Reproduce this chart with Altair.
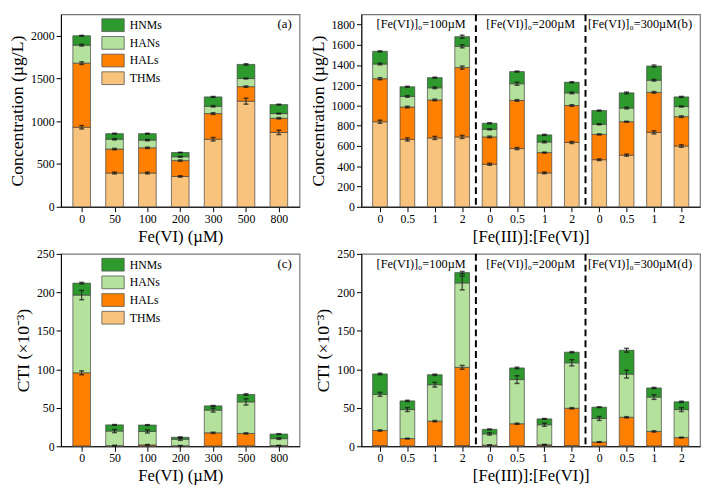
import altair as alt
import pandas as pd

FONT = "Liberation Serif"

classes_stack = ["THMs", "HALs", "HANs", "HNMs"]
legend_order = ["HNMs", "HANs", "HALs", "THMs"]
class_colors = ["#2E9A2E", "#B4E19C", "#FF8000", "#F8C37C"]

fe_doses = ["0", "50", "100", "200", "300", "500", "800"]
ratios = ["0", "0.5", "1", "2"]
groups = ["[Fe(VI)]₀=100µM", "[Fe(VI)]₀=200µM", "[Fe(VI)]₀=300µM"]

# (a) concentration vs Fe(VI) dose
a_thms = [930, 395, 395, 355, 790, 1235, 870]
a_hals = [750, 280, 295, 185, 300, 170, 165]
a_hans = [210, 115, 90, 45, 85, 95, 55]
a_hnms = [110, 65, 75, 50, 110, 165, 105]
a_thms_err = [20, 10, 10, 8, 20, 35, 25]
a_hals_err = [15, 8, 8, 8, 10, 8, 8]
a_hans_err = [10, 8, 8, 5, 8, 5, 5]
a_hnms_err = [5, 5, 5, 3, 5, 8, 5]

# (b) concentration vs [Fe(III)]:[Fe(VI)]
b_thms = [840, 665, 680, 690, 420, 575, 335, 635, 465, 510, 735, 600]
b_hals = [425, 320, 375, 685, 270, 475, 200, 365, 250, 330, 395, 290]
b_hans = [145, 105, 120, 210, 75, 165, 105, 125, 100, 135, 120, 100]
b_hnms = [125, 95, 100, 95, 60, 120, 70, 105, 135, 150, 140, 95]
b_thms_err = [15, 15, 15, 15, 10, 10, 8, 10, 8, 10, 15, 12]
b_hals_err = [10, 8, 8, 15, 8, 8, 5, 8, 5, 5, 8, 8]
b_hans_err = [8, 8, 8, 15, 5, 15, 8, 8, 5, 8, 8, 5]
b_hnms_err = [5, 5, 5, 15, 5, 5, 5, 5, 5, 8, 10, 5]

# (c) CTI vs Fe(VI) dose
c_thms = [0.5, 0.3, 0.3, 0.2, 0.5, 0.7, 0.5]
c_hals = [95, 0.5, 1.5, 0.5, 17, 16, 0.5]
c_hans = [101, 19, 17.5, 8.5, 29.5, 41, 9]
c_hnms = [15.5, 8, 8.3, 2.5, 5.5, 9.6, 5.9]
c_thms_err = [0, 0, 0, 0, 0, 0, 0]
c_hals_err = [2.5, 0.5, 0.5, 0.3, 0.8, 0.8, 0.3]
c_hans_err = [6, 2, 2, 1.5, 2.5, 4, 1]
c_hnms_err = [1, 0.5, 0.5, 0.5, 0.5, 1, 0.5]

# (d) CTI vs [Fe(III)]:[Fe(VI)]
d_thms = [1, 0.5, 0.7, 1, 0.5, 0.7, 1, 1, 0.5, 0.7, 0.5, 0.5]
d_hals = [19.5, 9.5, 32, 101.6, 1, 28.6, 1, 48.4, 5, 37, 18.8, 10.8]
d_hans = [47, 37.7, 47.3, 109.7, 14.6, 57.4, 26, 59.1, 30.6, 56.1, 44.7, 36.4]
d_hnms = [26.5, 11.3, 13, 13.4, 5.9, 15.1, 7.6, 13.8, 14.7, 31, 11.8, 10.1]
d_thms_err = [0] * 12
d_hals_err = [0.8, 0.5, 0.8, 2.5, 0.3, 0.8, 0.5, 0.8, 0.5, 0.8, 0.8, 0.5]
d_hans_err = [2.5, 2.5, 3, 9, 1.5, 5, 2, 4, 2.5, 5, 3, 2.5]
d_hnms_err = [1, 0.8, 0.8, 1.5, 0.5, 1, 0.5, 0.8, 0.5, 2.5, 0.8, 0.8]


def build_df(labels, vals, errs):
    rows = []
    for i, lab in enumerate(labels):
        base = 0.0
        for k, cls in enumerate(classes_stack):
            v = vals[k][i]
            e = errs[k][i]
            rows.append(dict(pos=i, label=lab, cls=cls, k=k, base=base,
                             top=base + v, err=e, lo=base + v - e, hi=base + v + e))
            base += v
    return pd.DataFrame(rows)


ratio_labels = ratios * len(groups)

df_a = build_df(fe_doses, [a_thms, a_hals, a_hans, a_hnms],
                [a_thms_err, a_hals_err, a_hans_err, a_hnms_err])
df_b = build_df(ratio_labels, [b_thms, b_hals, b_hans, b_hnms],
                [b_thms_err, b_hals_err, b_hans_err, b_hnms_err])
df_c = build_df(fe_doses, [c_thms, c_hals, c_hans, c_hnms],
                [c_thms_err, c_hals_err, c_hans_err, c_hnms_err])
df_d = build_df(ratio_labels, [d_thms, d_hals, d_hans, d_hnms],
                [d_thms_err, d_hals_err, d_hans_err, d_hnms_err])

# wide rectangle swatch (legend entry height = sqrt(symbolSize))
SYMBOL = "M-1.75,-1H1.75V1H-1.75Z"


def panel(df, labels, xdom, bw, ymax, yvals, ytitle, xtitle, w, h, tag,
          show_legend, grouped):
    n = len(labels)
    expr = "[" + ",".join("'" + l + "'" for l in labels) + "][round(datum.value)]"
    xaxis = alt.Axis(values=list(range(n)), labelExpr=expr, title=xtitle,
                     grid=False, tickSize=5, labelPadding=2, titlePadding=4,
                     labelFontSize=12, titleFontSize=17)
    xscale = alt.Scale(domain=xdom, nice=False, zero=False)
    yscale = alt.Scale(domain=[0, ymax], nice=False)
    yaxis = alt.Axis(values=yvals, title=ytitle, grid=False, tickSize=5, format="d",
                     labelPadding=2, titlePadding=4, labelFontSize=12,
                     titleFontSize=18)

    if show_legend:
        legend = alt.Legend(orient="none", legendX=46, legendY=4, title=None,
                            symbolType=SYMBOL, symbolSize=169,
                            symbolStrokeColor="#555", symbolStrokeWidth=0.8,
                            labelFont=FONT, labelFontSize=12, labelColor="black",
                            rowPadding=0, labelOffset=10, padding=0)
    else:
        legend = None

    bars = alt.Chart(df).mark_bar(size=bw, stroke="#444", strokeWidth=0.7).encode(
        x=alt.X("pos:Q", scale=xscale, axis=xaxis),
        y=alt.Y("base:Q", scale=yscale, axis=yaxis),
        y2="top:Q",
        color=alt.Color("cls:N", scale=alt.Scale(domain=legend_order, range=class_colors),
                        legend=legend),
    )
    edf = df[df["err"] > 0]
    rule = alt.Chart(edf).mark_rule(color="#222", strokeWidth=1).encode(
        x=alt.X("pos:Q", scale=xscale, axis=xaxis),
        y=alt.Y("lo:Q", scale=yscale, axis=yaxis), y2="hi:Q")
    cap_lo = alt.Chart(edf).mark_tick(color="#111", thickness=1.5, size=5,
                                      orient="horizontal").encode(
        x=alt.X("pos:Q", scale=xscale, axis=xaxis),
        y=alt.Y("lo:Q", scale=yscale, axis=yaxis))
    cap_hi = alt.Chart(edf).mark_tick(color="#111", thickness=1.5, size=5,
                                      orient="horizontal").encode(
        x=alt.X("pos:Q", scale=xscale, axis=xaxis),
        y=alt.Y("hi:Q", scale=yscale, axis=yaxis))
    tag_df = pd.DataFrame({"tx": [xdom[1]], "ty": [ymax], "t": [tag]})
    tag_text = alt.Chart(tag_df).mark_text(font=FONT, fontSize=13, align="right",
                                           baseline="top", dx=-3, dy=4,
                                           color="black").encode(
        x=alt.X("tx:Q", scale=xscale, axis=xaxis),
        y=alt.Y("ty:Q", scale=yscale, axis=yaxis), text="t:N")
    layers = [bars, rule, cap_lo, cap_hi, tag_text]

    if grouped:
        g = len(ratios)
        sep_df = pd.DataFrame({"sep": [g * (i + 1) - 0.5 for i in range(len(groups) - 1)]})
        seps = alt.Chart(sep_df).mark_rule(color="black", strokeWidth=2,
                                           strokeDash=[7, 4]).encode(
            x=alt.X("sep:Q", scale=xscale, axis=xaxis))
        gl_df = pd.DataFrame({"gx": [g * i + (g - 1) / 2 for i in range(len(groups))],
                              "gy": [ymax] * len(groups), "gt": groups})
        gl_main = alt.Chart(gl_df.iloc[:-1]).mark_text(
            font=FONT, fontSize=12.5, baseline="top", dy=4, color="black").encode(
            x=alt.X("gx:Q", scale=xscale, axis=xaxis),
            y=alt.Y("gy:Q", scale=yscale, axis=yaxis), text="gt:N")
        gl_last = alt.Chart(gl_df.iloc[-1:]).mark_text(
            font=FONT, fontSize=12.5, baseline="top", dy=4, dx=-8, color="black").encode(
            x=alt.X("gx:Q", scale=xscale, axis=xaxis),
            y=alt.Y("gy:Q", scale=yscale, axis=yaxis), text="gt:N")
        layers = [bars, seps, rule, cap_lo, cap_hi, gl_main, gl_last, tag_text]

    return alt.layer(*layers).properties(width=w, height=h)


WL, WR, H = 243, 345, 196
conc_title = "Concentration (µg/L)"
cti_title = "CTI (×10⁻³)"

pa = panel(df_a, fe_doses, [-0.48, 6.48], 18, 2250, [0, 500, 1000, 1500, 2000],
           conc_title, "Fe(VI) (µM)", WL, H, "(a)", True, False)
pb = panel(df_b, ratio_labels, [-0.5, 11.5], 15, 1900, list(range(0, 1801, 200)),
           conc_title, "[Fe(III)]:[Fe(VI)]", WR, H, "(b)", False, True)
pc = panel(df_c, fe_doses, [-0.48, 6.48], 18, 250, [0, 50, 100, 150, 200, 250],
           cti_title, "Fe(VI) (µM)", WL, H, "(c)", True, False)
pd_ = panel(df_d, ratio_labels, [-0.5, 11.5], 15, 250, [0, 50, 100, 150, 200, 250],
            cti_title, "[Fe(III)]:[Fe(VI)]", WR, H, "(d)", False, True)

chart = alt.concat(pa, pb, pc, pd_, columns=2, spacing={"row": 2, "column": 8}).resolve_scale(
    color="independent"
).properties(padding=0, background="white").configure_view(
    stroke="#777", strokeWidth=1.2
).configure_axis(
    labelFont=FONT, titleFont=FONT, labelColor="black", titleColor="black",
    titleFontWeight="normal", domainColor="black", tickColor="black",
    domainWidth=1, tickWidth=1
)

chart.save("out.html", embed_options={"renderer": "svg", "actions": False})
